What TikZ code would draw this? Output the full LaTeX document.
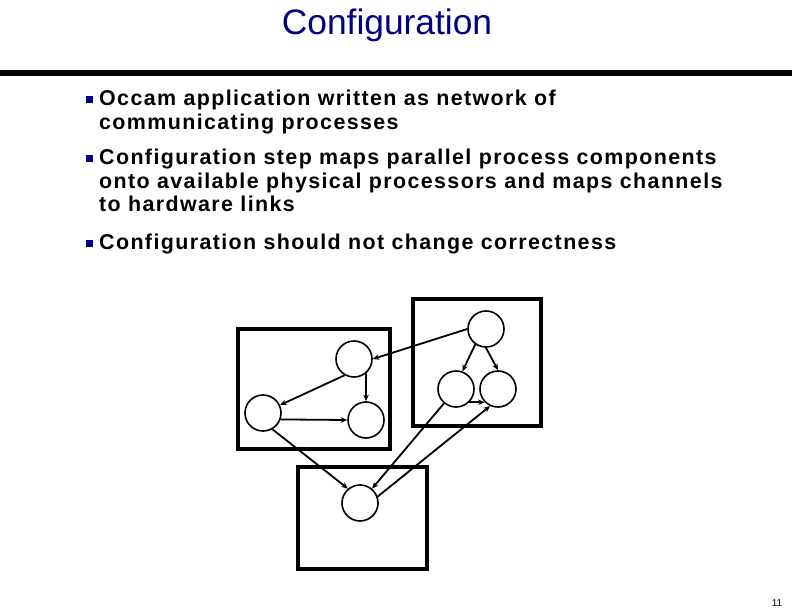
\documentclass[tikz,border=0pt]{standalone}
\usepackage{fontspec}
\setmainfont{Liberation Sans}
\usetikzlibrary{arrows.meta}
\definecolor{navy}{RGB}{0,0,128}
\begin{document}
\begin{tikzpicture}[x=1bp,y=-1bp,
  proc/.style={draw,circle,minimum size=36bp,inner sep=0pt,line width=1.6bp},
  cpu/.style={draw,line width=4.5bp},
  link/.style={line width=1.8bp,-{Stealth[length=6.5bp,width=5.5bp]}},
  bul/.style={fill=navy,minimum size=7bp,inner sep=0pt},
  item/.style={anchor=base west,inner sep=0pt,font=\fontsize{21.5}{23.5}\selectfont\bfseries\addfontfeatures{LetterSpace=6.5}}]
\useasboundingbox (0,0) rectangle (792,612);
\node[text=navy,font=\fontsize{35.5}{40}\selectfont] (title) at (387,25) {Configuration};
\fill (0,70) rectangle (792,76);
% bullets
\node[bul] (b1) at (89.5,100) {};
\node[item] (t1a) at (99,106) {Occam application written as network of};
\node[item] (t1b) at (99,129.5) {communicating processes};
\node[bul] (b2) at (89.5,159) {};
\node[item] (t2a) at (99,165) {Configuration step maps parallel process components};
\node[item] (t2b) at (99,188.5) {onto available physical processors and maps channels};
\node[item] (t2c) at (99,212) {to hardware links};
\node[bul] (b3) at (89.5,243) {};
\node[item] (t3) at (99,249) {Configuration should not change correctness};
% processors
\draw[cpu] (238,329) rectangle (390,449);
\draw[cpu] (413,299) rectangle (541,426);
\draw[cpu] (298,467) rectangle (427,569);
% processes
\node[proc] (L1) at (354,359) {};
\node[proc] (L2) at (263,413) {};
\node[proc] (L3) at (366,420) {};
\node[proc] (R1) at (486,329) {};
\node[proc] (R2) at (456,389) {};
\node[proc] (R3) at (498,389) {};
\node[proc] (B) at (360,503) {};
% channels
\draw[link] (R1.west) -- (L1.east);
\draw[link] (R1.-125) -- (R2.70);
\draw[link] (R1.-90) -- (R3.90);
\draw[link] (L1.-120) -- (L2.25);
\draw[link] (L1.-50) -- (L3.90);
\draw[link] (L2.-20) -- (L3.west);
\draw[link] (R2.-45) -- (R3.-135);
\draw[link] (L2.-60) -- (B.130);
\draw[link] (R2.-130) -- (B.50);
\draw[link] (B.20) -- (R3.-115);
\node[font=\fontsize{10}{12}\selectfont] (pg) at (777,603) {11};
\end{tikzpicture}
\end{document}
